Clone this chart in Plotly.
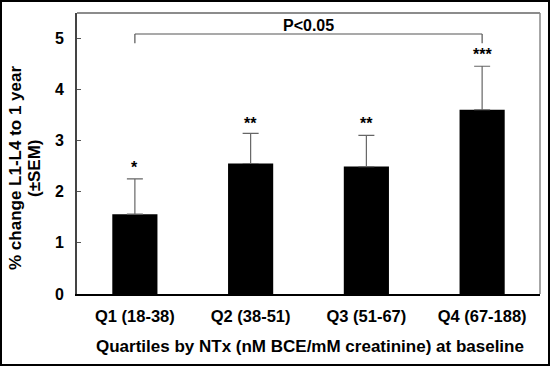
import plotly.graph_objects as go

categories = ["Q1 (18-38)", "Q2 (38-51)", "Q3 (51-67)", "Q4 (67-188)"]
values = [1.56, 2.55, 2.49, 3.60]
sem = [0.69, 0.59, 0.61, 0.85]
stars = ["*", "**", "**", "***"]
star_y = [2.47, 3.34, 3.33, 4.67]
yticks = [0, 1, 2, 3, 4, 5]

FONT = "Arial, 'Liberation Sans', sans-serif"
xs = list(range(len(categories)))

fig = go.Figure()
fig.add_trace(go.Bar(
    x=xs, y=values, width=0.39,
    marker=dict(color="black", line=dict(width=0)),
    error_y=dict(type="data", array=sem, arrayminus=[0]*4, symmetric=False,
                 color="#666666", thickness=1.2, width=8),
))

L, R, T, B = 77, 10, 13, 72
W, H = 550, 366
pw, ph = W - L - R, H - T - B

ann = []
for x, s, sy in zip(xs, stars, star_y):
    ann.append(dict(x=x, y=sy, text=f"<b>{s}</b>", showarrow=False, xref="x", yref="y",
                    font=dict(family=FONT, size=16, color="black"), yanchor="middle"))
ann.append(dict(x=1.5, y=5.09, text="<b>P<0.05</b>", showarrow=False, xref="x", yref="y",
                yanchor="bottom", yshift=-3, font=dict(family=FONT, size=16, color="black")))
ann.append(dict(x=(15 - L) / pw, y=(294 - 168) / ph, xref="paper", yref="paper",
                xanchor="center", yanchor="middle",
                text="<b>% change L1-L4 to 1 year</b>", textangle=-90, showarrow=False,
                font=dict(family=FONT, size=17, color="black")))
ann.append(dict(x=(34 - L) / pw, y=(294 - 168) / ph, xref="paper", yref="paper",
                xanchor="center", yanchor="middle",
                text="<b>(±SEM)</b>", textangle=-90, showarrow=False,
                font=dict(family=FONT, size=17, color="black")))
ann.append(dict(x=(310 - L) / pw, y=(294 - 346) / ph, xref="paper", yref="paper",
                xanchor="center", yanchor="middle",
                text="<b>Quartiles by NTx (nM BCE/mM creatinine) at baseline</b>", showarrow=False,
                font=dict(family=FONT, size=17, color="black")))

shapes = [
    # bracket
    dict(type="line", xref="x", yref="y", x0=0, x1=3, y0=5.08, y1=5.08, line=dict(color="#555555", width=1.2)),
    dict(type="line", xref="x", yref="y", x0=0, x1=0, y0=5.08, y1=4.9, line=dict(color="#555555", width=1.2)),
    dict(type="line", xref="x", yref="y", x0=3, x1=3, y0=5.08, y1=4.9, line=dict(color="#555555", width=1.2)),
    # top & right frame
    dict(type="line", xref="paper", yref="paper", x0=0, x1=1, y0=1, y1=1, line=dict(color="#666666", width=1.5)),
    dict(type="line", xref="paper", yref="paper", x0=1, x1=1, y0=0, y1=1, line=dict(color="#888888", width=1.5)),
    # image border
    dict(type="rect", xref="paper", yref="paper",
         x0=(1 - L) / pw, x1=(W - 1 - L) / pw, y0=(T + ph - (H - 1)) / ph, y1=(T + ph - 1) / ph,
         line=dict(color="black", width=2), fillcolor="rgba(0,0,0,0)"),
]

fig.update_layout(
    width=W, height=H, margin=dict(l=L, r=R, t=T, b=B),
    paper_bgcolor="white", plot_bgcolor="white", showlegend=False,
    annotations=ann, shapes=shapes,
    xaxis=dict(range=[-0.5, 3.5], tickvals=xs, ticktext=[f"<b>{c}</b>" for c in categories],
               tickfont=dict(family=FONT, size=16.5, color="black"),
               showline=True, linecolor="black", linewidth=2, ticks="", showgrid=False,
               zeroline=False, fixedrange=True, ticklabelstandoff=6),
    yaxis=dict(range=[0, 5.49], tickvals=yticks, ticktext=[f"<b>{v}</b>" for v in yticks],
               tickfont=dict(family=FONT, size=16, color="black"),
               showline=True, linecolor="#444444", linewidth=2, ticks="inside", ticklen=4,
               tickcolor="#555555", showgrid=False, zeroline=False, ticklabelstandoff=8),
)

fig.write_html("out.html", config={"displayModeBar": False},
               post_script="document.body.style.margin='0';document.body.style.overflow='hidden';")
